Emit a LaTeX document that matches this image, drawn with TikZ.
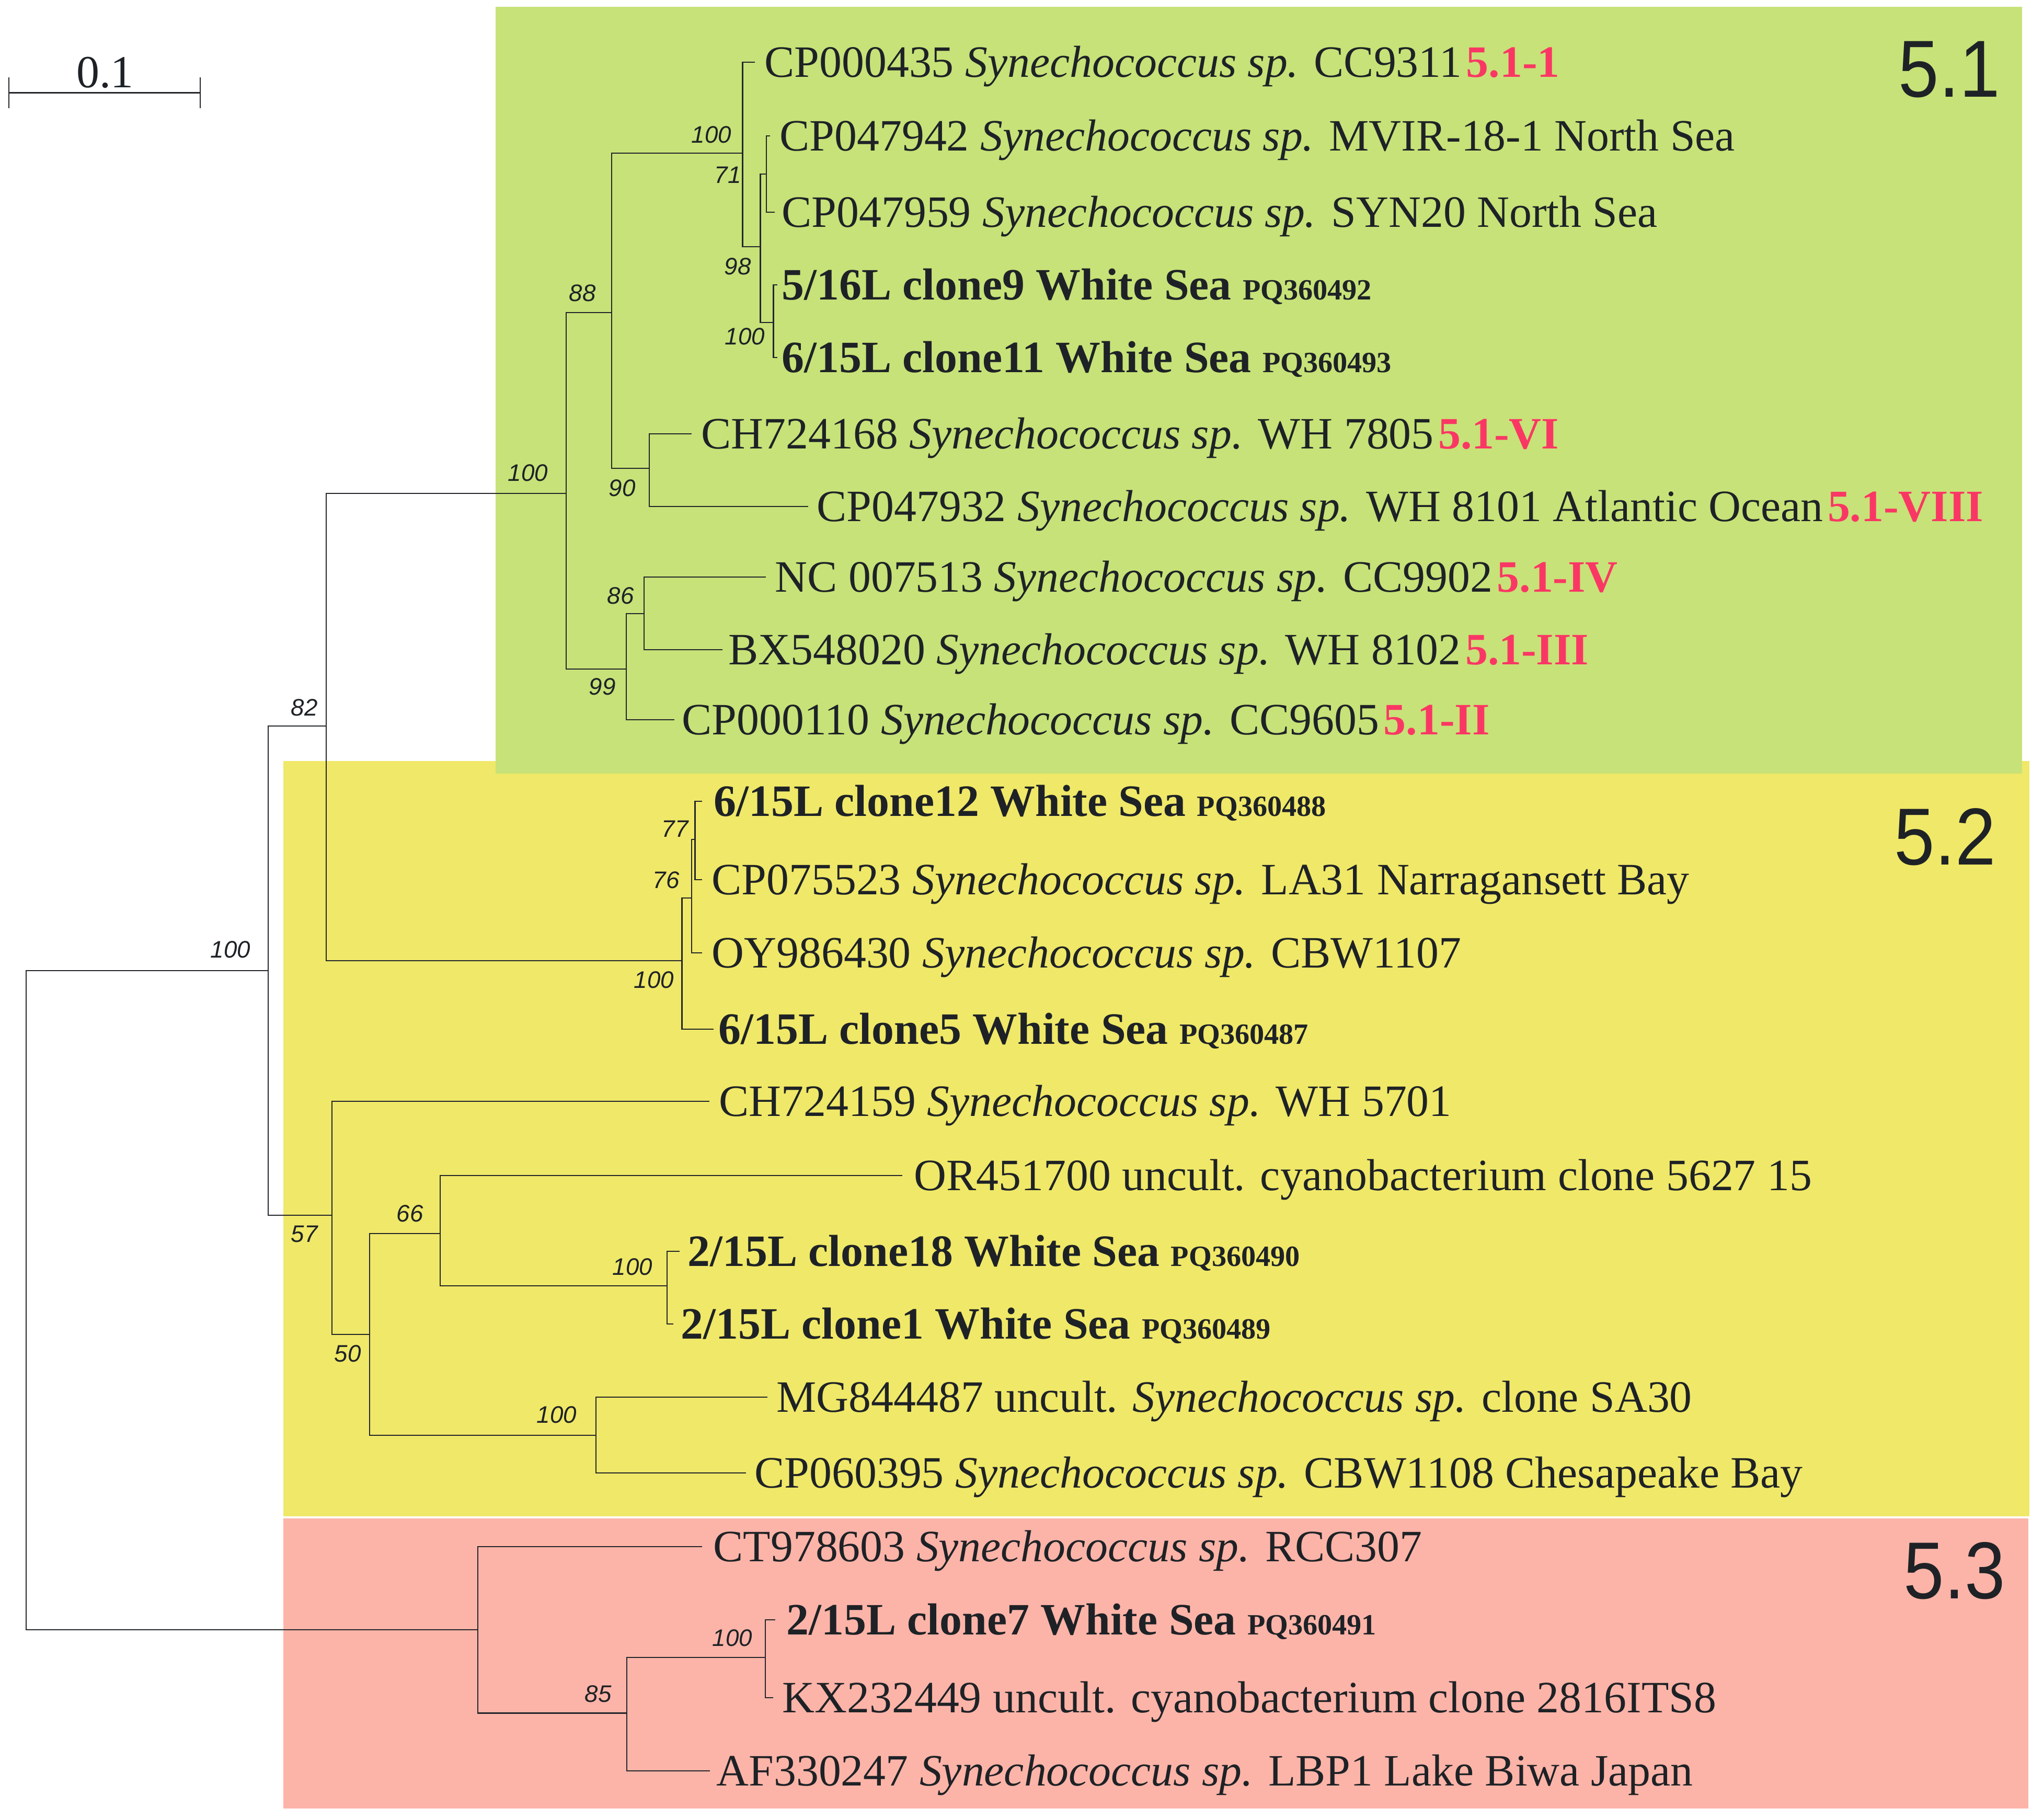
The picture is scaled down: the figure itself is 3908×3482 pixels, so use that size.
\documentclass[tikz,border=0pt]{standalone}
\usepackage{fontspec}
\setmainfont{Liberation Serif}
\newfontfamily\bsfont{Liberation Sans}
\definecolor{gbg}{RGB}{199,226,120}
\definecolor{ybg}{RGB}{240,232,104}
\definecolor{pbg}{RGB}{253,180,168}
\definecolor{redl}{RGB}{250,55,100}
\definecolor{txt}{RGB}{30,34,38}
\definecolor{linec}{RGB}{35,38,42}
\newcommand\Sy{\textit{Synechococcus sp.}\hspace{0.34em}}
\newcommand\WS[2]{\textbf{#1 White Sea} {\fontsize{16}{18}\selectfont\bfseries #2}}
\newcommand\Rd[1]{\hspace{0.1em}\textbf{\color{redl}#1}}
\begin{document}
\begin{tikzpicture}[x=0.1mm,y=-0.1mm,
  br/.style={draw=linec, line width=0.6pt},
  leaf/.style={anchor=west, inner ysep=0pt, text height=16.2pt, text depth=0pt,
     font=\fontsize{24.4}{28}\selectfont, text=txt},
  bs/.style={font=\bsfont\itshape\fontsize{13}{14}\selectfont, text=txt, inner sep=0pt},
  clus/.style={font=\bsfont\fontsize{44}{48}\selectfont, text=txt, anchor=east, inner sep=0pt, xscale=0.9}]
\useasboundingbox (0,0) rectangle (3908,3482);
% background boxes
\fill[ybg] (542,1456) rectangle (3882,2901);
\fill[pbg] (542,2905) rectangle (3880,3460);
\fill[gbg] (948,13) rectangle (3868,1480);
% scale bar
\coordinate (sbL) at (17,178);
\coordinate (sbR) at (383,178);
\draw[draw=linec, line width=0.85pt] (sbL) -- (sbR);
\draw[draw=linec, line width=0.3pt] ([yshift=3mm]sbL) -- ([yshift=-2.9mm]sbL);
\draw[draw=linec, line width=0.3pt] ([yshift=3mm]sbR) -- ([yshift=-2.9mm]sbR);
\node[anchor=base, inner sep=0pt, font=\fontsize{25}{28}\selectfont, text=txt] (sbt) at (201,168) {0.1};
% internal nodes
\coordinate (R) at (50,2487);
\coordinate (A) at (513,1857);
\coordinate (B) at (624,1389);
\coordinate (C) at (635,2325);
\coordinate (G) at (1083,944);
\coordinate (N88) at (1170,598);
\coordinate (N99) at (1198,1280);
\coordinate (T100) at (1420.5,293);
\coordinate (N98) at (1454.5,472);
\coordinate (N71) at (1466,333);
\coordinate (C100) at (1479.5,617);
\coordinate (N90) at (1242,896);
\coordinate (N86) at (1232,1174);
\coordinate (H) at (1304.5,1838);
\coordinate (N76) at (1323,1718);
\coordinate (N77) at (1329.5,1606);
\coordinate (N50) at (707,2553);
\coordinate (N66) at (842,2360);
\coordinate (L100) at (1276,2460);
\coordinate (M100) at (1140,2746);
\coordinate (S) at (914,3118);
\coordinate (N85) at (1199,3277.5);
\coordinate (K100) at (1464,3171);
% leaves
\node[leaf, inner xsep=1.8mm] (l1) at (1444,119) {CP000435 \Sy CC9311\Rd{5.1-1}};
\node[leaf, inner xsep=1.8mm] (l2) at (1473,260) {CP047942 \Sy MVIR-18-1 North Sea};
\node[leaf, inner xsep=1.3mm] (l3) at (1482,406) {CP047959 \Sy SYN20 North Sea};
\node[leaf, inner xsep=0.8mm] (l4) at (1487,545) {\WS{5/16L clone9}{PQ360492}};
\node[leaf, inner xsep=0.8mm] (l5) at (1487,684) {\WS{6/15L clone11}{PQ360493}};
\node[leaf, inner xsep=1.8mm] (l6) at (1323,830) {CH724168 \Sy WH 7805\Rd{5.1-VI}};
\node[leaf, inner xsep=1.6mm] (l7) at (1546,969) {CP047932 \Sy WH 8101 Atlantic Ocean\Rd{5.1-VIII}};
\node[leaf, inner xsep=1.7mm] (l8) at (1465,1104) {NC 007513 \Sy CC9902\Rd{5.1-IV}};
\node[leaf, inner xsep=1.1mm] (l9) at (1382,1243) {BX548020 \Sy WH 8102\Rd{5.1-III}};
\node[leaf, inner xsep=1.4mm] (l10) at (1290,1377) {CP000110 \Sy CC9605\Rd{5.1-II}};
\node[leaf, inner xsep=2.2mm] (l11) at (1343,1533) {\WS{6/15L clone12}{PQ360488}};
\node[leaf, inner xsep=1.8mm] (l12) at (1343,1683) {CP075523 \Sy LA31 Narragansett Bay};
\node[leaf, inner xsep=1.8mm] (l13) at (1343,1823) {OY986430 \Sy CBW1107};
\node[leaf, inner xsep=0.9mm] (l14) at (1365,1969) {\WS{6/15L clone5}{PQ360487}};
\node[leaf, inner xsep=1.8mm] (l15) at (1357,2107) {CH724159 \Sy WH 5701};
\node[leaf, inner xsep=2.2mm] (l16) at (1726,2249) {OR451700 uncult. cyanobacterium clone 5627 15};
\node[leaf, inner xsep=1.5mm] (l17) at (1300,2394) {\WS{2/15L clone18}{PQ360490}};
\node[leaf, inner xsep=1.4mm] (l18) at (1288,2533) {\WS{2/15L clone1}{PQ360489}};
\node[leaf, inner xsep=1.7mm] (l19) at (1468,2673) {MG844487 uncult. \Sy clone SA30};
\node[leaf, inner xsep=1.6mm] (l20) at (1427,2818) {CP060395 \Sy CBW1108 Chesapeake Bay};
\node[leaf, inner xsep=2.1mm] (l21) at (1343,2959) {CT978603 \Sy RCC307};
\node[leaf, inner xsep=2.1mm] (l22) at (1483,3099) {\WS{2/15L clone7}{PQ360491}};
\node[leaf, inner xsep=1.7mm] (l23) at (1479,3248) {KX232449 uncult. cyanobacterium clone 2816ITS8};
\node[leaf, inner xsep=1.2mm] (l24) at (1358,3388) {AF330247 \Sy LBP1 Lake Biwa Japan};
% branches
\draw[br] (R) |- (A);  \draw[br] (R) |- (S);
\draw[br] (A) |- (B);  \draw[br] (A) |- (C);
\draw[br] (B) |- (G);  \draw[br] (B) |- (H);
\draw[br] (G) |- (N88); \draw[br] (G) |- (N99);
\draw[br] (N88) |- (T100); \draw[br] (N88) |- (N90);
\draw[br] (T100) |- (l1.west); \draw[br] (T100) |- (N98);
\draw[br] (N98) |- (N71); \draw[br] (N98) |- (C100);
\draw[br] (N71) |- (l2.west); \draw[br] (N71) |- (l3.west);
\draw[br] (C100) |- (l4.west); \draw[br] (C100) |- (l5.west);
\draw[br] (N90) |- (l6.west); \draw[br] (N90) |- (l7.west);
\draw[br] (N99) |- (N86); \draw[br] (N99) |- (l10.west);
\draw[br] (N86) |- (l8.west); \draw[br] (N86) |- (l9.west);
\draw[br] (H) |- (N76); \draw[br] (H) |- (l14.west);
\draw[br] (N76) |- (N77); \draw[br] (N76) |- (l13.west);
\draw[br] (N77) |- (l11.west); \draw[br] (N77) |- (l12.west);
\draw[br] (C) |- (l15.west); \draw[br] (C) |- (N50);
\draw[br] (N50) |- (N66); \draw[br] (N50) |- (M100);
\draw[br] (N66) |- (l16.west); \draw[br] (N66) |- (L100);
\draw[br] (L100) |- (l17.west); \draw[br] (L100) |- (l18.west);
\draw[br] (M100) |- (l19.west); \draw[br] (M100) |- (l20.west);
\draw[br] (S) |- (l21.west); \draw[br] (S) |- (N85);
\draw[br] (N85) |- (K100); \draw[br] (N85) |- (l24.west);
\draw[br] (K100) |- (l22.west); \draw[br] (K100) |- (l23.west);
% bootstrap values
\node[bs] (bA) at (441,1817) {100};
\node[bs] (bB) at (582,1354) {82};
\node[bs] (bG) at (1010,905) {100};
\node[bs] (b88) at (1114,561) {88};
\node[bs] (bT) at (1361,258) {100};
\node[bs] (b71) at (1392,335) {71};
\node[bs] (b98) at (1411,510) {98};
\node[bs] (bC) at (1425,644) {100};
\node[bs] (b90) at (1190,934) {90};
\node[bs] (b86) at (1187,1140) {86};
\node[bs] (b99) at (1152,1314) {99};
\node[bs] (bH) at (1251,1875) {100};
\node[bs] (b76) at (1274,1684) {76};
\node[bs] (b77) at (1291,1586) {77};
\node[bs] (b57) at (582,2361) {57};
\node[bs] (b50) at (665,2590) {50};
\node[bs] (b66) at (784,2322) {66};
\node[bs] (bL) at (1210,2424) {100};
\node[bs] (bM) at (1065,2707) {100};
\node[bs] (b85) at (1144,3241) {85};
\node[bs] (bK) at (1401,3134) {100};
% cluster labels
\node[clus] (c51) at (3826,133) {5.1};
\node[clus] (c52) at (3818,1601) {5.2};
\node[clus] (c53) at (3836,3005) {5.3};
\end{tikzpicture}
\end{document}
